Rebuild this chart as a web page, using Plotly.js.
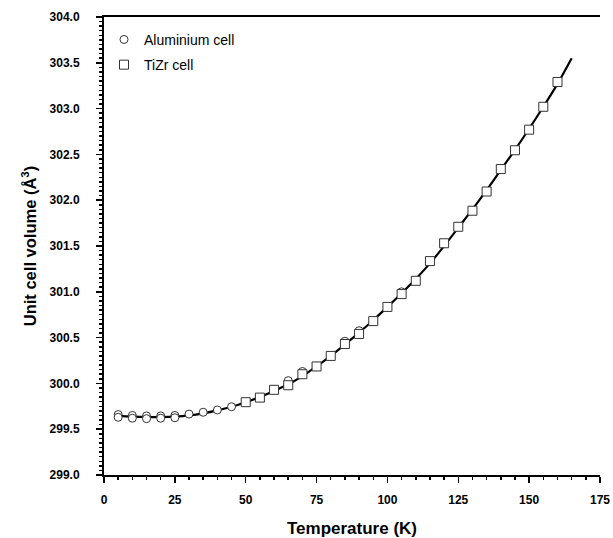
<!DOCTYPE html>
<html>
<head>
<meta charset="utf-8">
<script src="https://cdn.plot.ly/plotly-3.0.1.min.js"></script>
<style>html,body{margin:0;padding:0;background:#fff;}#chart{width:613px;height:538px;}</style>
</head>
<body>
<div id="chart"></div>
<script>
// Aluminium cell (circles)
var alT = [5, 5, 10, 10, 15, 15, 20, 20, 25, 25, 30, 35, 40, 45, 60, 65, 70, 85, 90, 105];
var alV = [299.66, 299.63, 299.65, 299.62, 299.645, 299.615, 299.645, 299.62, 299.65, 299.625, 299.665, 299.685, 299.71, 299.745, 299.93, 300.03, 300.13, 300.46, 300.575, 301.0];
// TiZr cell (squares)
var tzT = [50, 55, 60, 65, 70, 75, 80, 85, 90, 95, 100, 105, 110, 115, 120, 125, 130, 135, 140, 145, 150, 155, 160];
var tzV = [299.795, 299.845, 299.93, 299.98, 300.10, 300.185, 300.30, 300.43, 300.54, 300.68, 300.835, 300.975, 301.12, 301.335, 301.53, 301.71, 301.885, 302.095, 302.34, 302.545, 302.77, 303.02, 303.29];
// Fitted curve
var fitT = [5, 10, 15, 20, 25, 30, 35, 40, 45, 50, 55, 60, 65, 70, 75, 80, 85, 90, 95, 100, 105, 110, 115, 120, 125, 130, 135, 140, 145, 150, 155, 160, 165];
var fitV = [299.645, 299.637, 299.632, 299.632, 299.637, 299.65, 299.673, 299.705, 299.745, 299.795, 299.852, 299.917, 299.99, 300.08, 300.185, 300.30, 300.425, 300.555, 300.69, 300.835, 300.985, 301.14, 301.31, 301.50, 301.70, 301.90, 302.11, 302.33, 302.55, 302.78, 303.02, 303.27, 303.55];

var font = 'Liberation Sans, Arial, sans-serif';

var traces = [
  {x: fitT, y: fitV, type: 'scatter', mode: 'lines', line: {color: '#000', width: 2.2, shape: 'spline'}, showlegend: false, hoverinfo: 'skip'},
  {x: alT, y: alV, type: 'scatter', mode: 'markers', name: 'Aluminium cell', legendgroup: 'a',
   marker: {symbol: 'circle', size: 8, color: '#fff', line: {color: '#333', width: 1}}},
  {x: tzT, y: tzV, type: 'scatter', mode: 'markers', name: 'TiZr cell', legendgroup: 'b',
   marker: {symbol: 'square', size: 9, color: '#fff', line: {color: '#333', width: 1}}}
];

var layout = {
  width: 613, height: 538,
  margin: {l: 104, r: 13, t: 17, b: 63},
  paper_bgcolor: '#fff', plot_bgcolor: '#fff',
  font: {family: font, color: '#000'},
  showlegend: true,
  legend: {x: 0.0, y: 0.985, xanchor: 'left', yanchor: 'top', bgcolor: 'rgba(0,0,0,0)',
           font: {family: font, size: 14, color: '#000'}, traceorder: 'grouped', tracegroupgap: 4, itemwidth: 30},
  xaxis: {
    range: [0, 175], dtick: 25, tick0: 0, showgrid: false, zeroline: false,
    showline: true, linecolor: '#000', linewidth: 2, mirror: true,
    ticks: 'outside', ticklen: 6, tickwidth: 1.5, tickcolor: '#000', ticklabelstandoff: 7,
    tickfont: {family: font, size: 12, weight: 'bold'},
    minor: {dtick: 5, ticks: 'outside', ticklen: 3, tickwidth: 1.5, tickcolor: '#000', showgrid: false},
    title: {text: '<b>Temperature (K)</b>', font: {family: font, size: 17}, standoff: 16}
  },
  yaxis: {
    range: [299, 304], dtick: 0.5, tick0: 299, tickformat: '.1f', showgrid: false, zeroline: false,
    showline: true, linecolor: '#000', linewidth: 2,
    ticks: 'outside', ticklen: 6, tickwidth: 1.5, tickcolor: '#000', ticklabelstandoff: 14,
    tickfont: {family: font, size: 12, weight: 'bold'},
    minor: {dtick: 0.05, ticks: 'outside', ticklen: 3, tickwidth: 1.5, tickcolor: '#000', showgrid: false},
    title: {text: '<b>Unit cell volume (Å<sup>3</sup>)</b>', font: {family: font, size: 16.5}, standoff: 9}
  },
  yaxis2: {
    overlaying: 'y', side: 'right', range: [299, 304], dtick: 0.1, tick0: 299,
    showticklabels: false, showgrid: false, zeroline: false,
    showline: true, linecolor: '#000', linewidth: 2,
    ticks: 'inside', ticklen: 5, tickwidth: 1.5, tickcolor: '#000'
  }
};

Plotly.newPlot('chart', traces, layout, {displayModeBar: false, staticPlot: true});
</script>
</body>
</html>
